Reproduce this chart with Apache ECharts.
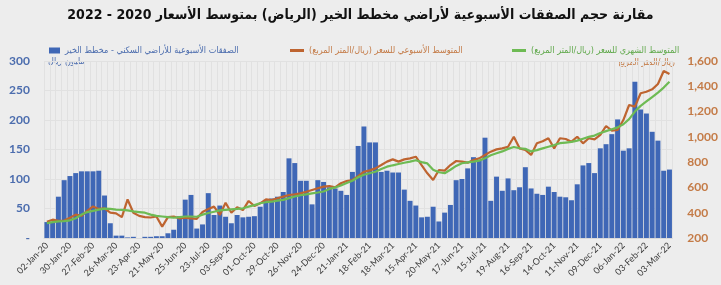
<!DOCTYPE html>
<html>
<head>
<meta charset="utf-8">
<script src="https://cdn.jsdelivr.net/npm/echarts@6/dist/echarts.min.js"></script>
<style>
html,body{margin:0;padding:0;background:#EDEDED;}
#chart{width:721px;height:285px;}
</style>
</head>
<body>
<div id="chart"></div>
<script>
var categories = [
'02-Jan-20','09-Jan-20','16-Jan-20','23-Jan-20','30-Jan-20','06-Feb-20','13-Feb-20','20-Feb-20','27-Feb-20','05-Mar-20',
'12-Mar-20','19-Mar-20','26-Mar-20','02-Apr-20','09-Apr-20','16-Apr-20','23-Apr-20','30-Apr-20','07-May-20','14-May-20',
'21-May-20','04-Jun-20','11-Jun-20','18-Jun-20','25-Jun-20','02-Jul-20','09-Jul-20','16-Jul-20','23-Jul-20','13-Aug-20',
'20-Aug-20','27-Aug-20','03-Sep-20','10-Sep-20','17-Sep-20','24-Sep-20','01-Oct-20','08-Oct-20','15-Oct-20','22-Oct-20',
'29-Oct-20','05-Nov-20','12-Nov-20','19-Nov-20','26-Nov-20','03-Dec-20','10-Dec-20','17-Dec-20','24-Dec-20','31-Dec-20',
'07-Jan-21','14-Jan-21','21-Jan-21','28-Jan-21','04-Feb-21','11-Feb-21','18-Feb-21','25-Feb-21','04-Mar-21','11-Mar-21',
'18-Mar-21','25-Mar-21','01-Apr-21','08-Apr-21','15-Apr-21','22-Apr-21','29-Apr-21','06-May-21','20-May-21','27-May-21',
'03-Jun-21','10-Jun-21','17-Jun-21','24-Jun-21','01-Jul-21','08-Jul-21','15-Jul-21','29-Jul-21','05-Aug-21','12-Aug-21',
'19-Aug-21','26-Aug-21','02-Sep-21','09-Sep-21','16-Sep-21','23-Sep-21','30-Sep-21','07-Oct-21','14-Oct-21','21-Oct-21',
'28-Oct-21','04-Nov-21','11-Nov-21','18-Nov-21','25-Nov-21','02-Dec-21','09-Dec-21','16-Dec-21','23-Dec-21','30-Dec-21',
'06-Jan-22','13-Jan-22','20-Jan-22','27-Jan-22','03-Feb-22','10-Feb-22','17-Feb-22','24-Feb-22','03-Mar-22'
];

// weekly transactions (million SAR)
var weeklyVolume = [
27,27,70,98,105,110,113,113,113,114,
72,25,4,4,1,2,0,2,2,3,
3,8,14,37,65,73,16,23,76,39,
55,36,25,39,35,36,37,53,64,67,
70,78,135,127,97,97,57,98,95,86,
84,80,73,112,156,189,162,162,112,114,
111,111,82,63,55,35,36,53,28,43,
56,98,100,118,137,132,170,63,104,80,
101,81,86,120,84,75,73,87,78,70,
69,64,91,123,127,110,152,159,176,201,
148,152,265,218,211,180,165,114,116
];

// weekly average price (SAR / m2)
var weeklyPrice = [
329,345,335,338,360,385,375,415,450,430,
435,400,395,365,505,400,375,365,362,370,
290,365,370,355,360,355,352,405,430,448,
382,479,400,443,421,493,453,474,506,500,
514,527,540,545,553,566,580,593,606,611,
600,633,651,659,690,724,735,751,777,804,
822,804,822,830,843,777,712,659,738,733,
777,809,804,796,817,830,857,883,901,909,
922,1001,909,896,857,949,965,989,909,989,
983,962,1001,949,989,980,1015,1086,1049,1054,
1133,1252,1239,1345,1357,1376,1418,1521,1497
];

// monthly average price (SAR / m2)
var monthlyPrice = [
318,325,332,334,340,356,385,405,415,425,
432,430,425,422,418,410,405,400,385,375,
370,365,360,365,370,370,368,385,398,408,
418,422,426,430,435,448,460,475,483,487,
495,502,515,528,538,545,553,560,568,588,
600,615,635,653,680,700,712,724,745,764,
775,785,795,804,815,800,790,740,720,712,
740,770,791,798,804,812,830,855,870,885,
905,920,910,905,885,895,909,922,935,950,
955,960,970,985,1000,1010,1030,1045,1060,1075,
1100,1140,1200,1245,1280,1315,1350,1390,1436
];

var leftTicks = {min:0, max:300, interval:50};
var rightTicks = {min:200, max:1600, interval:200};

var titleText = 'مقارنة حجم الصفقات الأسبوعية لأراضي مخطط الخير (الرياض) بمتوسط الأسعار 2020 - 2022';
var nameBars = 'الصفقات الأسبوعية للأراضي السكني - مخطط الخير';
var nameWeekly = 'المتوسط الأسبوعي للسعر (ريال/المتر المربع)';
var nameMonthly = 'المتوسط الشهري للسعر (ريال/المتر المربع)';
var leftUnit = 'مليون ريال';
var rightUnit = 'ريال/المتر المربع';

var BLUE = '#3F67B6', BROWN = '#BE6430', GREEN = '#6EBB54';
var LBLUE = '#4C6DAE', LBROWN = '#C47B47';
var AR = '"DejaVu Sans Condensed", "DejaVu Sans", sans-serif';
var NUM = 'Lato, "DejaVu Sans", sans-serif';

var chart = echarts.init(document.getElementById('chart'), null, {renderer:'canvas'});
chart.setOption({
  backgroundColor: '#EDEDED',
  animation: false,
  title: {
    text: titleText, left: 'center', top: 3,
    textStyle: {fontFamily: AR, fontSize: 14, fontWeight: 'bold', color: '#111'}
  },
  legend: [
    {data:[nameBars], left: 44, top: 41, itemWidth: 11, itemHeight: 6, icon: 'rect', itemGap: 4,
     textStyle:{fontFamily: AR, fontSize: 9, color: LBLUE}},
    {data:[nameWeekly], left: 285, top: 41, itemWidth: 14, itemHeight: 3, icon: 'rect',
     textStyle:{fontFamily: AR, fontSize: 9, color: LBROWN}},
    {data:[nameMonthly], left: 507, top: 41, itemWidth: 14, itemHeight: 3, icon: 'rect',
     textStyle:{fontFamily: AR, fontSize: 9, color: '#5FA84A'}}
  ],
  grid: {left: 44, right: 43, top: 61, bottom: 47, containLabel: false},
  xAxis: {
    type: 'category', data: categories, boundaryGap: true,
    axisLine: {show: true, lineStyle: {color: '#D9D9D9'}},
    axisTick: {show: false},
    axisLabel: {interval: 3, rotate: 45, fontFamily: NUM, fontSize: 9, color: '#3A3A3A', margin: 6},
    splitLine: {show: true, interval: 0, lineStyle: {color: '#E1E1E1', width: 1}}
  },
  yAxis: [
    {type: 'value', min: leftTicks.min, max: leftTicks.max, interval: leftTicks.interval,
     axisLine: {show: false}, axisTick: {show: false},
     axisLabel: {fontFamily: NUM, fontSize: 12, fontWeight: 'bold', color: LBLUE, margin: 14,
       formatter: function(v){ return v === 0 ? '-' : String(v); }},
     splitLine: {show: true, lineStyle: {color: '#E1E1E1', width: 1}}},
    {type: 'value', min: rightTicks.min, max: rightTicks.max, interval: rightTicks.interval,
     axisLine: {show: false}, axisTick: {show: false},
     axisLabel: {fontFamily: NUM, fontSize: 12, fontWeight: 'bold', color: LBROWN, margin: 15,
       formatter: function(v){ return v.toLocaleString('en-US'); }},
     splitLine: {show: false}}
  ],
  graphic: [
    {type: 'text', left: 48, top: 57, style: {text: leftUnit, font: '9px ' + AR, fill: LBLUE}},
    {type: 'text', right: 46, top: 58, style: {text: rightUnit, font: '9px ' + AR, fill: LBROWN}}
  ],
  series: [
    {name: nameBars, type: 'bar', data: weeklyVolume, yAxisIndex: 0,
     barCategoryGap: '14%', itemStyle: {color: BLUE}},
    {name: nameWeekly, type: 'line', data: weeklyPrice, yAxisIndex: 1,
     symbol: 'none', lineStyle: {color: BROWN, width: 2.2}, itemStyle: {color: BROWN}},
    {name: nameMonthly, type: 'line', data: monthlyPrice, yAxisIndex: 1,
     symbol: 'none', lineStyle: {color: GREEN, width: 2.2}, itemStyle: {color: GREEN}}
  ]
});
</script>
</body>
</html>
